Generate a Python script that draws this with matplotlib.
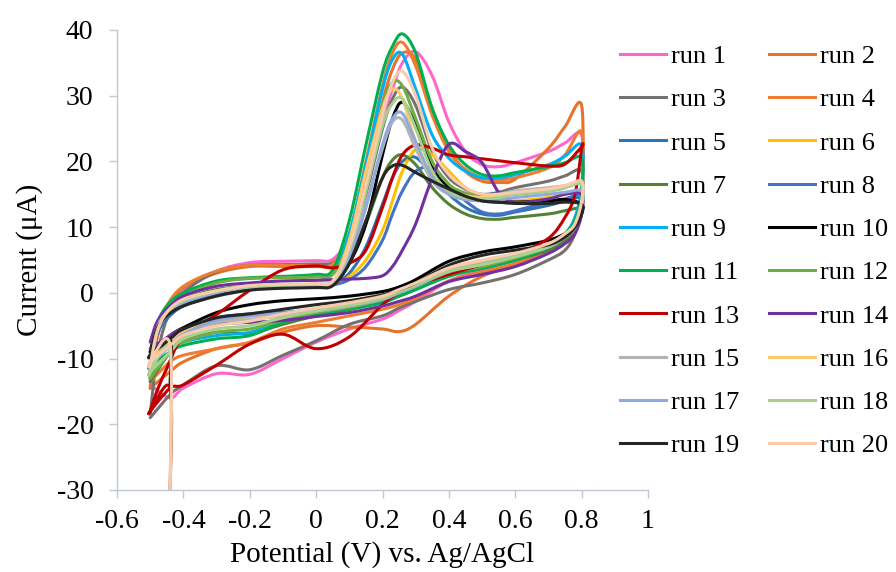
"""Cyclic voltammograms of 20 repeated runs, Excel-style, two-column legend on the right.

Output: out.png
"""

import matplotlib

matplotlib.use("Agg")
import matplotlib.pyplot as plt
import numpy as np
from matplotlib.lines import Line2D
from matplotlib.patches import PathPatch
from matplotlib.path import Path

plt.rcParams["font.family"] = ["Liberation Serif", "DejaVu Serif"]
plt.rcParams["axes.unicode_minus"] = False

LABELS = [f"run {i}" for i in range(1, 21)]

COLORS = [
    "#FF66CC", "#E6732B", "#767171", "#ED7D31", "#2E75B6",
    "#FFC000", "#548235", "#4472C4", "#00B0F0", "#000000",
    "#00B050", "#70AD47", "#C00000", "#7030A0", "#B4B4B4",
    "#FFC96B", "#8FAADC", "#A9D18E", "#262626", "#F8CBAD",
]

# forward (oxidation) scan, -0.5 V -> 0.8 V
E_TOP = [-0.5, -0.48, -0.45, -0.4, -0.3, -0.2, -0.1, 0.0, 0.05, 0.1, 0.15, 0.2,
         0.23, 0.26, 0.3, 0.35, 0.4, 0.45, 0.5, 0.55, 0.6, 0.7, 0.75, 0.8]
TOP_CURRENT = [
    [-13, -7, -3, 0.5, 3.3, 4.6, 4.8, 4.9, 5.1, 8.5, 16, 26, 31, 35, 36.7, 33, 26, 21.5, 19.5, 19.2, 19.8, 21.5, 22.8, 24],
    [-14.5, -7, -2.5, 0.8, 3.0, 4.0, 4.0, 4.0, 4.2, 8, 17.5, 29, 34, 36.5, 35.5, 28, 22, 18.5, 17, 16.8, 17.3, 22, 25.3, 28.5],
    [-18.5, -10, -4, 0, 3.2, 4.2, 4.3, 4.4, 4.6, 7.5, 15, 25, 29.5, 31.3, 28.5, 21.5, 17.5, 15.8, 15, 15.3, 16, 17, 17.8, 18.5],
    [-13.5, -6, -2, 1, 3.3, 4.2, 4.2, 4.2, 4.4, 9, 20, 31.5, 36.5, 38.1, 34.5, 27, 21.5, 18.8, 17.5, 17.2, 17.5, 19, 21, 24.5],
    [-12, -6.5, -4, -2, -0.3, 0.5, 0.8, 1.0, 1.3, 3, 7, 13.5, 17.5, 20, 20.6, 18, 15, 13, 12, 11.8, 12.3, 13.3, 14, 14.5],
    [-11, -6, -3.5, -1.5, 0, 0.8, 1.0, 1.1, 1.3, 2.5, 5, 9.5, 14, 18.5, 21.8, 21, 18.5, 16, 14.8, 14.3, 14, 14.5, 15, 15.5],
    [-13, -6, -3, -1, 0.5, 1.0, 1.2, 1.3, 1.6, 4.5, 10.5, 17.5, 20.2, 21, 19.5, 16, 13.5, 12, 11.3, 11.2, 11.5, 12, 12.5, 13],
    [-11, -6, -3.5, -1.5, 0, 0.7, 0.9, 1.0, 1.2, 2, 4, 8, 12, 15.5, 18.5, 19, 16.5, 14, 12.3, 12, 12.5, 13.8, 14.3, 15],
    [-12, -6, -2.5, -0.3, 1.7, 2.2, 2.4, 2.7, 3.2, 9, 19.5, 31, 35.5, 36.3, 31, 24, 20.5, 18.5, 17.5, 17.5, 18, 19.5, 20.8, 22.5],
    [-9, -5, -3, -1.5, 0, 0.6, 0.8, 0.9, 1.2, 4.5, 10.5, 21, 26.5, 29, 25.5, 19, 16, 14.8, 14, 13.8, 13.8, 14, 14.2, 13.5],
    [-11, -5, -2, 0, 1.8, 2.3, 2.5, 2.8, 3.5, 11, 22.5, 33.5, 37.5, 39.4, 36.5, 28, 22.5, 19.5, 18, 17.8, 18.3, 19.2, 19.8, 20.5],
    [-13, -6, -2.5, -0.5, 1.5, 2.2, 2.3, 2.4, 2.8, 8, 18, 28.5, 32, 31.5, 26.5, 20, 16.5, 15.2, 14.8, 14.8, 15, 15.5, 16, 17],
    [-18, -15, -11.5, -6.5, -3.3, 0.4, 3.5, 4.1, 3.8, 4.5, 6.5, 13, 17.5, 21, 22.5, 22, 21, 20.7, 20.4, 20.1, 19.8, 19.3, 19.6, 22.2],
    [-7.5, -4.5, -2.5, -0.5, 1.0, 1.5, 1.8, 1.9, 2.0, 2.1, 2.2, 2.6, 4, 6.5, 10.5, 17.5, 22.6, 21.5, 19.8, 15.3, 13.8, 14.3, 15, 15],
    [-10.5, -5.5, -3, -1.2, 0.2, 0.9, 1.1, 1.2, 1.5, 6, 13.5, 22, 26, 26.3, 22, 17, 15, 14.5, 14.5, 15, 15.5, 16, 16.3, 16.5],
    [-10, -5.5, -3, -1, 0.3, 1.0, 1.2, 1.3, 1.6, 8, 18.5, 28, 31, 29.5, 23, 17.5, 15.5, 14.8, 14.5, 14.8, 15.2, 15.8, 16.3, 16.8],
    [-11, -6, -3.2, -1.5, 0, 0.8, 1.0, 1.1, 1.4, 5.5, 13, 22.5, 26.5, 27.3, 23, 17.5, 15, 14.2, 14, 14.2, 14.5, 15, 15.3, 15.5],
    [-12, -6, -3, -1.2, 0.2, 0.9, 1.1, 1.2, 1.5, 6.5, 15.5, 25.5, 28.8, 29.5, 25, 18.5, 15.5, 14.5, 14.3, 14.5, 15, 15.5, 16, 16.5],
    [-9.5, -5.5, -3.5, -2, -0.5, 0.4, 0.7, 0.8, 1.1, 4.5, 11, 17.5, 19.3, 19.4, 18.3, 17, 15.8, 14.7, 14, 13.8, 13.6, 13.6, 13.8, 13.5],
    [-11, -6, -3, -1, 0.3, 1.1, 1.3, 1.4, 1.8, 7, 16.5, 27, 32, 33.7, 30, 22, 18, 16, 15, 15, 15.3, 15.8, 16.3, 17],
]

# reverse scan, 0.8 V -> -0.5 V
E_BOT = [0.8, 0.78, 0.75, 0.7, 0.6, 0.5, 0.4, 0.3, 0.25, 0.2, 0.1, 0.0,
         -0.1, -0.2, -0.3, -0.4, -0.44, -0.5]
BOT_CURRENT = [
    [15, 11, 9, 7, 5, 3.5, 1.8, -1.3, -2.7, -4, -5.5, -7.5, -10, -12.4, -12.3, -14.5, -16, -14],
    [14, 10, 8, 6.5, 4.3, 2.5, -0.5, -4.8, -5.9, -5.5, -5.2, -5, -6, -7.6, -8.5, -10.5, -12, -14.5],
    [13, 9, 6.5, 5, 2.8, 1.5, 0.5, -1.3, -2.3, -3.5, -4.8, -7.3, -9.5, -11.7, -11.1, -14, -15.5, -19],
    [15, 11, 8.5, 6.8, 4.5, 3.2, 1.8, -0.8, -1.8, -2.5, -3.5, -4.5, -5.5, -7.5, -8.5, -9.5, -10.5, -13.5],
    [13, 10, 8.5, 7, 5.5, 4.3, 3.2, 1, 0, -0.8, -1.8, -2.5, -3, -3.2, -4, -7, -9, -13],
    [12, 9.5, 8.5, 7.2, 5.8, 4.8, 3.8, 1.2, 0.2, -0.8, -2, -2.8, -3.5, -4, -4.3, -6, -7.5, -11],
    [12.5, 9.5, 8, 6.5, 5, 3.7, 2.7, 0.5, -0.5, -1.3, -2.5, -3.5, -4.8, -6.2, -6, -7.3, -9, -13.5],
    [13, 10, 8.5, 7, 5.5, 4.2, 3, 0.8, -0.2, -1, -2, -2.7, -3, -3.3, -3.8, -6, -8, -11],
    [16, 11.5, 9, 7, 5, 3.8, 2.8, 0.6, -0.3, -1.3, -2.3, -3.0, -4.3, -6, -6.5, -7.5, -9, -12],
    [12, 10, 9, 8, 7, 6.2, 4.8, 2, 0.9, 0.2, -0.5, -0.9, -1.2, -1.8, -3, -5.3, -6.5, -9],
    [15, 11, 9, 7, 5, 3.8, 2.5, 0.5, -0.5, -1.5, -2.5, -3.3, -4.5, -6.5, -7, -8, -9, -11],
    [13, 10, 8.5, 7, 5.3, 4, 3, 1, 0, -1, -2.2, -3, -4.2, -5.5, -6, -7.5, -9, -13],
    [22, 15, 11.5, 8.3, 5.8, 4.3, 2.8, 1.2, 0, -1.8, -6.7, -8.5, -6.3, -7.8, -11, -14, -14.5, -18],
    [12, 9, 7.5, 6, 4, 2.8, 1.7, -0.5, -1.3, -2, -3, -3.6, -4.2, -4.5, -4.7, -5.5, -6.5, -8.5],
    [13, 10, 8.5, 7, 5.5, 4.3, 3.2, 1, 0, -1, -2, -2.8, -3.5, -4, -4.5, -6.5, -8, -10.5],
    [13, 10, 8.5, 7.2, 5.8, 4.6, 3.6, 1.4, 0.3, -0.7, -1.8, -2.6, -3.2, -3.6, -4, -6, -7.5, -10],
    [13, 10, 8.5, 7, 5.6, 4.4, 3.3, 1.1, 0.1, -0.9, -1.9, -2.6, -3.1, -3.5, -4.2, -6.3, -8, -11],
    [13, 10, 8.5, 7, 5.5, 4.3, 3.3, 1.2, 0.2, -0.8, -1.9, -2.7, -3.8, -5, -5.5, -7, -9, -12],
    [12, 10, 8.5, 7.3, 6.5, 5.7, 4.2, 1.5, 0.5, -0.3, -1.2, -1.8, -2.5, -3.2, -3.8, -5.5, -7, -9.5],
    [14, 10.5, 9, 7.5, 6, 5, 3.8, 1.5, 0.5, -0.5, -1.5, -2.3, -3.2, -4.3, -5, -6.5, -8, -10.5],
]

# initial charging transient at the start potential (None = not visible)
E_SPIKE = -0.44
SPIKE_CURRENT = [None, None, None, None, None, None, None, -13.5, None, None,
                 None, None, -30, None, None, None, None, -30, -14, -30]

AXIS_COLOR = "#BFC7D5"
LINE_WIDTH = 2.2


def smooth_path(x, y) -> Path:
    """Excel-like 'smoothed line': Catmull-Rom through the points, as cubic Beziers."""
    pts = np.column_stack([x, y]).astype(float)
    n = len(pts)
    verts = [pts[0]]
    codes = [Path.MOVETO]
    for i in range(n - 1):
        p0 = pts[max(i - 1, 0)]
        p1 = pts[i]
        p2 = pts[i + 1]
        p3 = pts[min(i + 2, n - 1)]
        verts += [p1 + (p2 - p0) / 6, p2 - (p3 - p1) / 6, p2]
        codes += [Path.CURVE4] * 3
    return Path(verts, codes)


def main() -> None:
    fig = plt.figure(figsize=(8.96, 5.72), dpi=100)
    ax = fig.add_axes([0.1306, 0.1434, 0.5926, 0.8042])

    handles = []
    for i in range(len(LABELS)):
        e = E_TOP + E_BOT
        cur = TOP_CURRENT[i] + BOT_CURRENT[i]
        if SPIKE_CURRENT[i] is not None:
            e = [E_SPIKE] + E_BOT[-2:] + e
            cur = [SPIKE_CURRENT[i]] + BOT_CURRENT[i][-2:] + cur
        ax.add_patch(PathPatch(smooth_path(e, cur), fill=False, edgecolor=COLORS[i],
                               lw=LINE_WIDTH, joinstyle="round", capstyle="round"))
        handles.append(Line2D([], [], color=COLORS[i], lw=LINE_WIDTH))

    ax.set_xlim(-0.6, 1.0)
    ax.set_ylim(-30, 40)
    ax.set_xticks([-0.6, -0.4, -0.2, 0, 0.2, 0.4, 0.6, 0.8, 1.0])
    ax.set_xticklabels(["-0.6", "-0.4", "-0.2", "0", "0.2", "0.4", "0.6", "0.8", "1"])
    ax.set_yticks(range(-30, 41, 10))

    for side in ("top", "right"):
        ax.spines[side].set_visible(False)
    for side in ("left", "bottom"):
        ax.spines[side].set_color(AXIS_COLOR)
        ax.spines[side].set_linewidth(1.0)
    ax.tick_params(axis="both", direction="out", length=6, width=1.0,
                   color=AXIS_COLOR, labelsize=20, labelcolor="black")
    ax.tick_params(axis="y", pad=11)
    ax.tick_params(axis="x", pad=8)

    ax.set_xlabel("Potential (V) vs. Ag/AgCl", fontsize=21, labelpad=5)
    ax.set_ylabel("Current (\u03bcA)", fontsize=21, labelpad=10)

    # Excel fills the legend row by row: odd runs left, even runs right
    order = list(range(0, 20, 2)) + list(range(1, 20, 2))
    fig.legend([handles[k] for k in order], [LABELS[k] for k in order],
               ncol=2, loc="upper left", bbox_to_anchor=(0.692, 0.922),
               frameon=False, fontsize=19, handlelength=1.75, handletextpad=0.2,
               columnspacing=1.1, labelspacing=0.75, borderpad=0, borderaxespad=0)

    fig.savefig("out.png", dpi=100)
    plt.close(fig)


if __name__ == "__main__":
    main()
